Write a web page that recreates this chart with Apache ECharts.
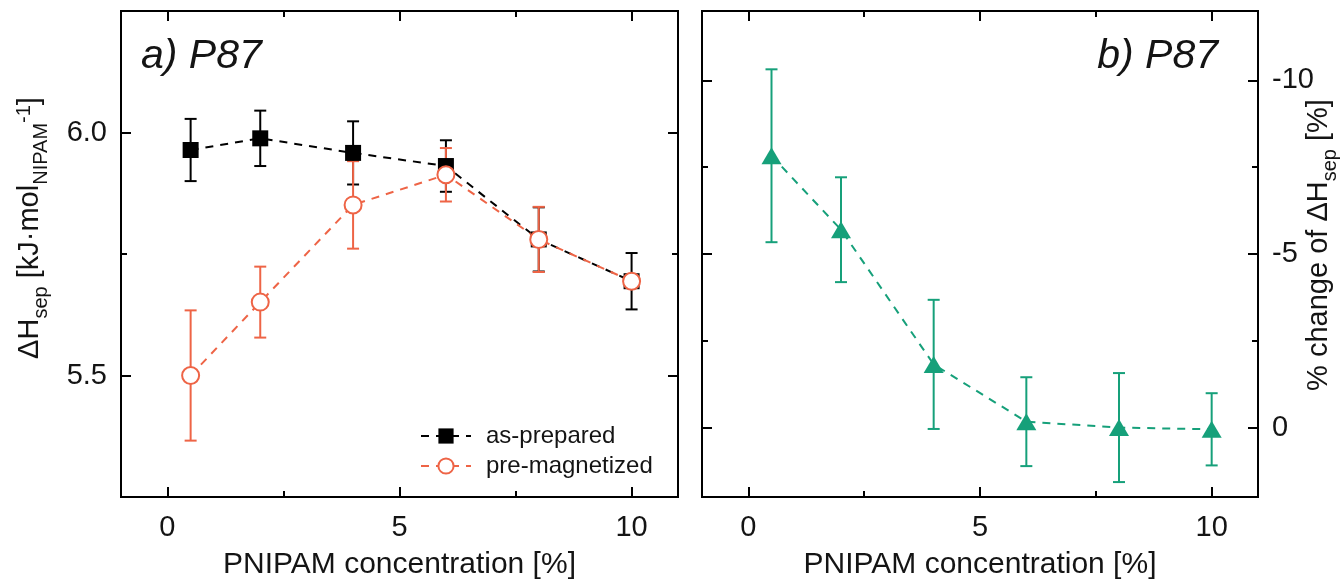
<!DOCTYPE html>
<html>
<head>
<meta charset="utf-8">
<script src="https://cdn.jsdelivr.net/npm/echarts@6/dist/echarts.min.js"></script>
<style>
html,body{margin:0;padding:0;background:#fff;}
#c{width:1342px;height:585px;}
</style>
</head>
<body>
<div id="c"></div>
<script>
// ---- data ----
var conc = [0.5, 2, 4, 6, 8, 10];
var asPrepared = [5.964, 5.988, 5.958, 5.931, 5.780, 5.694];
var asPreparedErr = [0.064, 0.057, 0.065, 0.053, 0.066, 0.058];
var preMag = [5.500, 5.651, 5.851, 5.913, 5.780, 5.694];
var preMagErr = [0.134, 0.073, 0.090, 0.055, 0.067, 0.012];
var pctChange = [-7.83, -5.70, -1.82, -0.17, 0.0, 0.05];
var pctChangeErr = [2.49, 1.51, 1.86, 1.28, 1.57, 1.04];

var xMajor = [0, 5, 10];
var xMinor = [2.5, 7.5];
var yLeftMajor = [5.5, 6.0];
var yLeftMinor = [5.25, 5.75, 6.25];
var yRightMajor = [-10, -5, 0];
var yRightMinor = [-7.5, -2.5];

var FONT = 'Liberation Sans, Arial, sans-serif';
var BLACK = '#000000';
var RED = '#ee6446';
var GREEN = '#16a07a';
var TXT = '#141414';

function pairs(xs, ys) { return xs.map(function (x, i) { return [x, ys[i]]; }); }
function errs(xs, ys, es) { return xs.map(function (x, i) { return [x, ys[i] - es[i], ys[i] + es[i]]; }); }

function errRender(color) {
  return function (params, api) {
    var x = api.value(0), lo = api.value(1), hi = api.value(2);
    var a = api.coord([x, lo]), b = api.coord([x, hi]);
    var w = 6;
    var st = { stroke: color, lineWidth: 2 };
    return {
      type: 'group',
      children: [
        { type: 'line', shape: { x1: a[0], y1: a[1], x2: b[0], y2: b[1] }, style: st },
        { type: 'line', shape: { x1: a[0] - w, y1: a[1], x2: a[0] + w, y2: a[1] }, style: st },
        { type: 'line', shape: { x1: b[0] - w, y1: b[1], x2: b[0] + w, y2: b[1] }, style: st }
      ]
    };
  };
}

function xAx(grid, pos, vals, len, labels, name) {
  return {
    type: 'value', gridIndex: grid, position: pos, min: -1, max: 11,
    splitLine: { show: false }, axisLine: { show: false, onZero: false },
    axisTick: { show: true, inside: true, length: len, customValues: vals, lineStyle: { color: BLACK, width: 2 } },
    axisLabel: { show: labels, customValues: vals, margin: 16, fontSize: 29, color: TXT, fontFamily: FONT },
    name: name || '', nameLocation: 'middle', nameGap: 53,
    nameTextStyle: { fontSize: 30, color: TXT, fontFamily: FONT }
  };
}
function yAx(grid, pos, vals, len, labels, min, max, inverse, fmt) {
  return {
    type: 'value', gridIndex: grid, position: pos, min: min, max: max, inverse: inverse,
    splitLine: { show: false }, axisLine: { show: false, onZero: false },
    axisTick: { show: true, inside: true, length: len, customValues: vals, lineStyle: { color: BLACK, width: 2 } },
    axisLabel: { show: labels, customValues: vals, margin: 14, fontSize: 29, color: TXT, fontFamily: FONT, formatter: fmt }
  };
}

var fmt1 = function (v) { return v.toFixed(1); };
var fmt0 = function (v) { return String(Math.round(v)); };

var option = {
  animation: false,
  backgroundColor: '#ffffff',
  grid: [
    { left: 121, right: 664, top: 11, bottom: 81, show: true, borderColor: BLACK, borderWidth: 2, backgroundColor: 'transparent' },
    { left: 702, right: 84, top: 11, bottom: 80, show: true, borderColor: BLACK, borderWidth: 2, backgroundColor: 'transparent' }
  ],
  xAxis: [
    xAx(0, 'bottom', xMajor, 10, true, 'PNIPAM concentration [%]'),
    xAx(0, 'bottom', xMinor, 6, false),
    xAx(0, 'top', xMajor, 10, false),
    xAx(0, 'top', xMinor, 6, false),
    xAx(1, 'bottom', xMajor, 10, true, 'PNIPAM concentration [%]'),
    xAx(1, 'bottom', xMinor, 6, false),
    xAx(1, 'top', xMajor, 10, false),
    xAx(1, 'top', xMinor, 6, false)
  ],
  yAxis: [
    yAx(0, 'left', yLeftMajor, 10, true, 5.25, 6.25, false, fmt1),
    yAx(0, 'left', yLeftMinor, 6, false, 5.25, 6.25, false),
    yAx(0, 'right', yLeftMajor, 10, false, 5.25, 6.25, false),
    yAx(0, 'right', yLeftMinor, 6, false, 5.25, 6.25, false),
    yAx(1, 'right', yRightMajor, 10, true, -12, 2, true, fmt0),
    yAx(1, 'right', yRightMinor, 6, false, -12, 2, true),
    yAx(1, 'left', yRightMajor, 10, false, -12, 2, true),
    yAx(1, 'left', yRightMinor, 6, false, -12, 2, true)
  ],
  legend: {
    data: ['as-prepared', 'pre-magnetized'],
    orient: 'vertical', left: 415, top: 419,
    itemWidth: 50, itemHeight: 19, itemGap: 6,
    textStyle: { fontSize: 24, color: TXT, fontFamily: FONT, padding: [0, 0, 0, 10] },
    selectedMode: false
  },
  graphic: [
    { type: 'text', x: 141, y: 57, style: { text: 'a) P87', font: 'italic 41px ' + FONT, fill: TXT, textAlign: 'left', textVerticalAlign: 'middle' } },
    { type: 'text', x: 1218, y: 57, style: { text: 'b) P87', font: 'italic 41px ' + FONT, fill: TXT, textAlign: 'right', textVerticalAlign: 'middle' } },
    {
      type: 'text', x: 30, y: 228, rotation: Math.PI / 2,
      style: {
        text: '{m|ΔH}{s|sep}{m| [kJ·mol}{s|NIPAM}{p|-1}{m|]}',
        textAlign: 'center', textVerticalAlign: 'middle',
        rich: {
          m: { fontSize: 29, fontFamily: FONT, fill: TXT, lineHeight: 42, verticalAlign: 'middle' },
          s: { fontSize: 20, fontFamily: FONT, fill: TXT, lineHeight: 42, verticalAlign: 'bottom' },
          p: { fontSize: 20, fontFamily: FONT, fill: TXT, lineHeight: 42, verticalAlign: 'top', padding: [5, 0, 0, 0] }
        }
      }
    },
    {
      type: 'text', x: 1319, y: 245, rotation: Math.PI / 2,
      style: {
        text: '{m|% change of ΔH}{s|sep}{m| [%]}',
        textAlign: 'center', textVerticalAlign: 'middle',
        rich: {
          m: { fontSize: 29, fontFamily: FONT, fill: TXT, lineHeight: 42, verticalAlign: 'middle' },
          s: { fontSize: 20, fontFamily: FONT, fill: TXT, lineHeight: 42, verticalAlign: 'bottom' }
        }
      }
    }
  ],
  series: [
    {
      name: 'as-prepared-err', type: 'custom', xAxisIndex: 0, yAxisIndex: 0,
      renderItem: errRender(BLACK), encode: { x: 0, y: [1, 2] },
      data: errs(conc, asPrepared, asPreparedErr), silent: true
    },
    {
      name: 'as-prepared', type: 'line', xAxisIndex: 0, yAxisIndex: 0,
      data: pairs(conc, asPrepared),
      symbol: 'rect', symbolSize: 16,
      itemStyle: { color: BLACK },
      lineStyle: { color: BLACK, width: 2, type: [8, 7] },
      silent: true
    },
    {
      name: 'pre-magnetized-err', type: 'custom', xAxisIndex: 0, yAxisIndex: 0,
      renderItem: errRender(RED), encode: { x: 0, y: [1, 2] },
      data: errs(conc, preMag, preMagErr), silent: true
    },
    {
      name: 'pre-magnetized', type: 'line', xAxisIndex: 0, yAxisIndex: 0,
      data: pairs(conc, preMag),
      symbol: 'circle', symbolSize: 17,
      itemStyle: { color: '#ffffff', borderColor: RED, borderWidth: 2 },
      lineStyle: { color: RED, width: 2, type: [8, 7] },
      silent: true
    },
    {
      name: 'pct-err', type: 'custom', xAxisIndex: 4, yAxisIndex: 4,
      renderItem: errRender(GREEN), encode: { x: 0, y: [1, 2] },
      data: errs(conc, pctChange, pctChangeErr), silent: true
    },
    {
      name: 'pct', type: 'line', xAxisIndex: 4, yAxisIndex: 4,
      data: pairs(conc, pctChange),
      symbol: 'triangle', symbolSize: [20, 17],
      itemStyle: { color: GREEN },
      lineStyle: { color: GREEN, width: 2, type: [8, 7] },
      silent: true
    }
  ]
};

var chart = echarts.init(document.getElementById('c'), null, { renderer: 'canvas' });
chart.setOption(option);
</script>
</body>
</html>
